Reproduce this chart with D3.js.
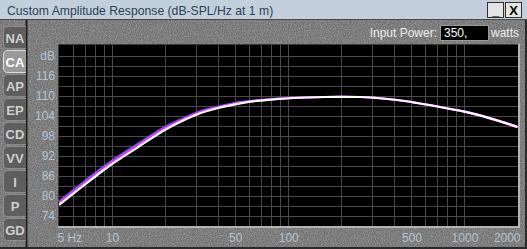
<!DOCTYPE html>
<html>
<head>
<meta charset="utf-8">
<script src="https://cdn.jsdelivr.net/npm/d3@7/dist/d3.min.js"></script>
<style>
  html, body { margin: 0; padding: 0; background: #6e6e6e; }
  svg { display: block; }
</style>
</head>
<body>
<script>
// frequency points (Hz)
const freqs   = [5, 7, 9.3, 14, 20.5, 25, 31.6, 40, 53.4, 60.8, 80, 106.8, 160, 200, 256, 319, 415, 539, 833, 1000, 1400, 2000];
// main (white) curve, dB
const splMain = [77.3, 83.4, 88.4, 94.6, 100.2, 102.5, 104.8, 106.4, 107.8, 108.3, 108.9, 109.4, 109.7, 109.75, 109.7, 109.4, 108.8, 107.9, 106.1, 105.3, 103.3, 100.7];
// magenta curve, slightly above at the low end
const splMag  = [77.8, 83.9, 88.9, 95.1, 100.6, 102.8, 105.1, 106.6, 108.0, 108.4, 109.0, 109.45, 109.7, 109.75, 109.7, 109.4, 108.8, 107.9, 106.1, 105.3, 103.3, 100.7];
// blue curve, a bit higher still
const splBlue = [78.3, 84.4, 89.4, 95.6, 101.0, 103.1, 105.4, 106.8, 108.2, 108.5, 109.1, 109.5, 109.7, 109.75, 109.7, 109.4, 108.8, 107.9, 106.1, 105.3, 103.3, 100.7];

const yTicks   = [74, 80, 86, 92, 98, 104, 110, 116];
const yGrid    = [74, 77, 80, 83, 86, 89, 92, 95, 98, 101, 104, 107, 110, 113, 116, 119, 122];
const xTicks   = [5, 10, 50, 100, 500, 1000, 2000];
const xGrid    = [6, 7, 8, 9, 10, 20, 30, 40, 50, 60, 70, 80, 90, 100, 200, 300, 400, 500, 600, 700, 800, 900, 1000];
const tabs     = ['NA', 'CA', 'AP', 'EP', 'CD', 'VV', 'I', 'P', 'GD'];

const W = 527, H = 249;
const plot = {left: 59, top: 45, right: 518, bottom: 226};
const fontFam = '"Liberation Sans", Arial, sans-serif';

const svg = d3.select('body').append('svg')
    .attr('width', W).attr('height', H)
    .style('font-family', fontFam);

// granite-ish texture
const defs = svg.append('defs');
const f = defs.append('filter').attr('id', 'grain').attr('x', 0).attr('y', 0).attr('width', '100%').attr('height', '100%');
f.append('feTurbulence').attr('type', 'fractalNoise').attr('baseFrequency', 0.85).attr('numOctaves', 2).attr('seed', 3).attr('result', 'n');
f.append('feColorMatrix').attr('in', 'n').attr('type', 'matrix')
    .attr('values', '0 0 0 0 0.40  0 0 0 0 0.40  0 0 0 0 0.40  1.6 0 0 0 -0.55');

svg.append('rect').attr('width', W).attr('height', H).attr('fill', '#717171');
svg.append('rect').attr('x', 0).attr('y', 0).attr('width', W).attr('height', H)
    .attr('filter', 'url(#grain)').attr('opacity', 0.9);

// title bar
svg.append('rect').attr('x', 0).attr('y', 0).attr('width', W).attr('height', 19).attr('fill', '#c3cfdb');
svg.append('line').attr('x1', 0).attr('x2', W).attr('y1', 19.5).attr('y2', 19.5).attr('stroke', '#4a4a4a');
svg.append('text').attr('x', 7).attr('y', 14.5).attr('font-size', 12.2).attr('fill', '#2e4154')
    .text('Custom Amplitude Response (dB-SPL/Hz at 1 m)');

// title buttons
[{x: 487, t: '_'}, {x: 505, t: 'X'}].forEach(b => {
  svg.append('rect').attr('x', b.x + 0.5).attr('y', 2.5).attr('width', 16).attr('height', 15)
      .attr('fill', '#e4e4e4').attr('stroke', '#303030');
  svg.append('text').attr('x', b.x + 8.5).attr('y', 15).attr('text-anchor', 'middle')
      .attr('font-size', 13).attr('font-weight', 'bold').attr('fill', '#000').text(b.t);
});

// window frame lines
svg.append('line').attr('x1', 26.5).attr('x2', 26.5).attr('y1', 20).attr('y2', H).attr('stroke', '#1e1e1e').attr('stroke-width', 2);
svg.append('line').attr('x1', 0).attr('x2', W).attr('y1', H - 1).attr('y2', H - 1).attr('stroke', '#2a2a2a').attr('stroke-width', 2);
svg.append('line').attr('x1', W - 1).attr('x2', W - 1).attr('y1', 20).attr('y2', H).attr('stroke', '#2a2a2a').attr('stroke-width', 2);

// tabs
const tabG = svg.append('g');
tabs.forEach((t, i) => {
  const y0 = 26 + i * 24;
  const sel = t === 'CA';
  tabG.append('path')
      .attr('d', `M26,${y0 + 0.5} L8,${y0 + 0.5} Q3.5,${y0 + 0.5} 3.5,${y0 + 5} L3.5,${y0 + 18} Q3.5,${y0 + 22.5} 8,${y0 + 22.5} L26,${y0 + 22.5}`)
      .attr('fill', sel ? '#9a9a9a' : '#5e5e5e')
      .attr('stroke', sel ? '#dcdcdc' : '#8c8c8c').attr('stroke-width', 1);
  tabG.append('text').attr('x', 15).attr('y', y0 + 16.5).attr('text-anchor', 'middle')
      .attr('font-size', 13).attr('font-weight', 'bold')
      .attr('fill', sel ? '#ffffff' : '#cfcfcf').text(t);
});

// input power
svg.append('text').attr('x', 437).attr('y', 37).attr('text-anchor', 'end')
    .attr('font-size', 12).attr('fill', '#ececec').text('Input Power:');
svg.append('rect').attr('x', 440.5).attr('y', 25.5).attr('width', 48).attr('height', 15)
    .attr('fill', '#000').attr('stroke', '#9a9a9a');
svg.append('text').attr('x', 444).attr('y', 37).attr('font-size', 12).attr('fill', '#fff').text('350,');
svg.append('text').attr('x', 491).attr('y', 37).attr('font-size', 12).attr('fill', '#ececec').text('watts');

// scales
const x = d3.scaleLog().domain([5, 2000]).range([plot.left, 517.5]);
const y = d3.scaleLinear().domain([71, 125]).range([226, 46]);

// plot background + bevel
svg.append('rect').attr('x', plot.left).attr('y', plot.top)
    .attr('width', plot.right - plot.left).attr('height', plot.bottom - plot.top).attr('fill', '#000');
svg.append('path')
    .attr('d', `M${plot.right + 1},${plot.top - 1} L${plot.right + 1},${plot.bottom + 1} L${plot.left - 1},${plot.bottom + 1}`)
    .attr('fill', 'none').attr('stroke', '#b4b4b4').attr('stroke-width', 2);
svg.append('path')
    .attr('d', `M${plot.left - 0.5},${plot.bottom} L${plot.left - 0.5},${plot.top - 0.5} L${plot.right},${plot.top - 0.5}`)
    .attr('fill', 'none').attr('stroke', '#3a3a3a').attr('stroke-width', 1);

// grid
const grid = svg.append('g').attr('stroke', '#4a4a4a').attr('stroke-width', 1);
grid.selectAll('.hg').data(yGrid).enter().append('line')
    .attr('x1', plot.left).attr('x2', plot.right)
    .attr('y1', d => Math.round(y(d)) + 0.5).attr('y2', d => Math.round(y(d)) + 0.5);
grid.selectAll('.vg').data(xGrid).enter().append('line')
    .attr('y1', plot.top).attr('y2', plot.bottom)
    .attr('x1', d => Math.round(x(d)) + 0.5).attr('x2', d => Math.round(x(d)) + 0.5);

// axis labels
const labColor = '#b3c3d3';
const yAxis = d3.axisLeft(y).tickValues(yTicks).tickSize(0).tickPadding(0);
const ya = svg.append('g').attr('transform', 'translate(55,0)').call(yAxis);
ya.select('.domain').remove();
ya.selectAll('text').attr('fill', labColor).attr('font-size', 12).attr('font-family', fontFam);
svg.append('text').attr('x', 55).attr('y', y(122) + 4).attr('text-anchor', 'end')
    .attr('font-size', 12).attr('fill', labColor).text('dB');

const xAxis = d3.axisBottom(x).tickValues(xTicks).tickSize(0).tickPadding(0)
    .tickFormat(d => d === 5 ? '5 Hz' : String(d));
const xa = svg.append('g').attr('transform', 'translate(0,233)').call(xAxis);
xa.select('.domain').remove();
xa.selectAll('text').attr('fill', labColor).attr('font-size', 12).attr('font-family', fontFam)
    .attr('text-anchor', d => d === 5 ? 'start' : (d === 2000 ? 'end' : 'middle'))
    .attr('dx', d => d === 5 ? -2 : (d === 2000 ? 2.5 : 0));

// curves
const clip = defs.append('clipPath').attr('id', 'pc');
clip.append('rect').attr('x', plot.left).attr('y', plot.top)
    .attr('width', plot.right - plot.left).attr('height', plot.bottom - plot.top);

const line = d3.line().x(d => x(d[0])).y(d => y(d[1])).curve(d3.curveMonotoneX);
const cg = svg.append('g').attr('clip-path', 'url(#pc)');
[[splBlue, '#6a5cff'], [splMag, '#ff22ff'], [splMain, '#ffffff']].forEach(([vals, col]) => {
  cg.append('path').datum(freqs.map((f, i) => [f, vals[i]]))
      .attr('d', line).attr('fill', 'none').attr('stroke', col).attr('stroke-width', 2.2);
});
</script>
</body>
</html>
